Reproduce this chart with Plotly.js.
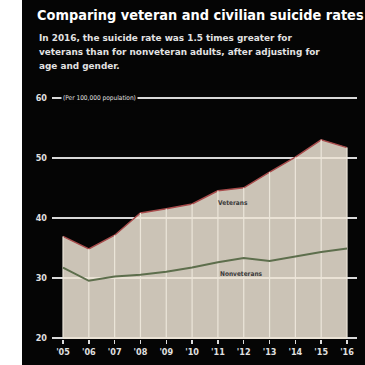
<!DOCTYPE html>
<html>
<head>
<meta charset="utf-8">
<script src="https://cdn.plot.ly/plotly-3.0.1.min.js"></script>
<style>
html,body{margin:0;padding:0;background:#fff;width:365px;height:365px;overflow:hidden;}
#chart{position:absolute;left:22px;top:0;width:343px;height:365px;}
</style>
</head>
<body>
<div id="chart"></div>
<script>
const years = [2005, 2006, 2007, 2008, 2009, 2010, 2011, 2012, 2013, 2014, 2015, 2016];
const tickLabels = ["'05", "'06", "'07", "'08", "'09", "'10", "'11", "'12", "'13", "'14", "'15", "'16"];
const veterans = [36.9, 34.8, 37.1, 40.8, 41.5, 42.3, 44.5, 45.0, 47.6, 50.1, 53.0, 51.7];
const nonveterans = [31.7, 29.5, 30.2, 30.5, 31.0, 31.7, 32.6, 33.3, 32.8, 33.6, 34.3, 34.9];
const yTicks = [20, 30, 40, 50, 60];
const subtitleLines = [
  'In 2016, the suicide rate was 1.5 times greater for',
  'veterans than for nonveteran adults, after adjusting for',
  'age and gender.'
];
const baseValue = 20;

const dropDown = veterans.map(v => v - baseValue);
const zeros = veterans.map(() => 0);

const COND = 'DejaVu Sans Condensed, DejaVu Sans, sans-serif';

// plot area in px (inside the 343x365 div)
const L = 30, R = 8, T = 96, B = 26;
const PW = 343 - L - R, PH = 365 - T - B;
const px2paperX = x => (x - L) / PW;
const px2paperY = y => (365 - B - y) / PH;

const traces = [
  {
    x: years, y: veterans, type: 'scatter', mode: 'lines',
    fill: 'tozeroy', fillcolor: 'rgba(236,227,212,0.86)',
    line: {color: '#a84c4c', width: 1.5},
    hoverinfo: 'skip'
  },
  {
    x: years, y: veterans, type: 'scatter', mode: 'markers',
    marker: {size: 1, opacity: 0},
    error_y: {type: 'data', symmetric: false, array: zeros, arrayminus: dropDown,
              width: 0, thickness: 1.2, color: '#ece6da'},
    hoverinfo: 'skip'
  },
  {
    x: years, y: nonveterans, type: 'scatter', mode: 'lines',
    line: {color: '#5d6e4c', width: 2},
    hoverinfo: 'skip'
  }
];

const annotations = subtitleLines.map((t, i) => ({
  xref: 'paper', yref: 'paper', x: px2paperX(15), y: px2paperY(38 + 14 * i),
  xanchor: 'left', yanchor: 'middle', align: 'left', showarrow: false,
  text: t,
  font: {family: 'DejaVu Sans, sans-serif', size: 8.9, color: '#e2e2e2', weight: 'bold'}
}));

annotations.push(
  {
    xref: 'x', yref: 'y', x: 2004.93, y: 60, xanchor: 'left', yanchor: 'middle',
    showarrow: false, text: '(Per 100,000 population)', bgcolor: '#050505',
    borderpad: 1,
    font: {family: COND, size: 6.5, color: '#e0e0e0'}
  },
  {
    xref: 'x', yref: 'y', x: 2011.6, y: 42.4, showarrow: false, text: 'Veterans',
    font: {family: COND, size: 6.5, color: '#3a3a3a', weight: 'bold'}
  },
  {
    xref: 'x', yref: 'y', x: 2011.9, y: 30.7, showarrow: false, text: 'Nonveterans',
    font: {family: COND, size: 6.5, color: '#3a3a3a', weight: 'bold'}
  }
);

const layout = {
  width: 343, height: 365,
  paper_bgcolor: '#050505', plot_bgcolor: 'rgba(0,0,0,0)',
  margin: {l: L, r: R, t: T, b: B, pad: 0},
  showlegend: false,
  title: {
    text: 'Comparing veteran and civilian suicide rates',
    font: {family: COND, size: 14.4, color: '#ffffff', weight: 'bold'},
    xref: 'container', x: 15/343, xanchor: 'left',
    yref: 'container', y: 1 - 15/365, yanchor: 'middle'
  },
  xaxis: {
    range: [2004.574, 2016.387],
    tickvals: years, ticktext: tickLabels,
    showgrid: false, zeroline: false, showline: false,
    ticks: 'outside', ticklen: 4, tickwidth: 1.5, tickcolor: '#dddddd',
    tickfont: {family: COND, size: 9, color: '#e0e0e0', weight: 'bold'}
  },
  yaxis: {
    range: [19.8, 60.3],
    tickvals: yTicks,
    showgrid: true, gridcolor: '#d9d9d9', gridwidth: 1.5,
    zeroline: false, showline: false, ticks: '',
    ticklabelstandoff: 4,
    tickfont: {family: COND, size: 9, color: '#e0e0e0', weight: 'bold'}
  },
  annotations: annotations
};

Plotly.newPlot('chart', traces, layout, {staticPlot: true, displayModeBar: false});
</script>
</body>
</html>
